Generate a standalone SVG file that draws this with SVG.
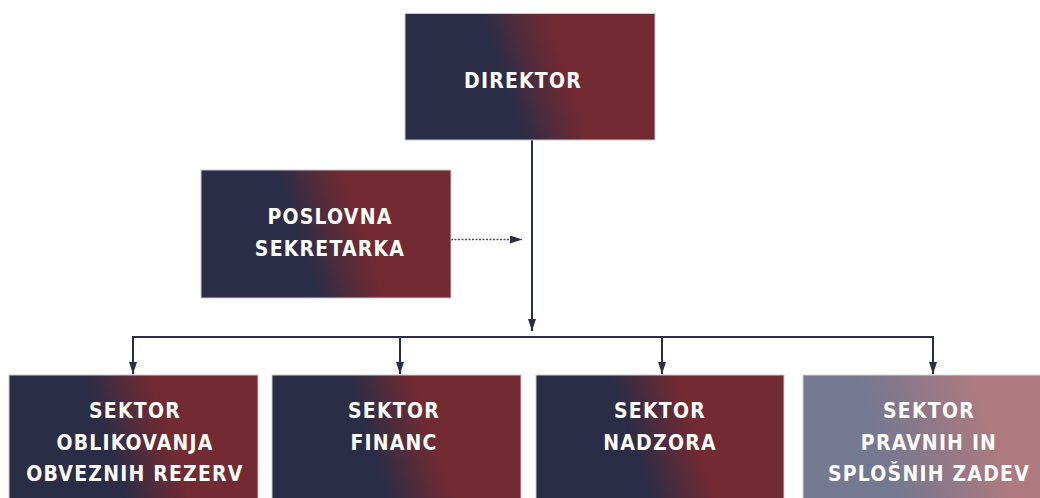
<svg xmlns="http://www.w3.org/2000/svg" width="1040" height="498" viewBox="0 0 1040 498">
  <defs>
    <linearGradient id="g" x1="0" y1="0.5" x2="1" y2="0.33">
      <stop offset="0" stop-color="#2b2d46"/>
      <stop offset="0.38" stop-color="#2b2d46"/>
      <stop offset="0.5" stop-color="#4f2c3c"/>
      <stop offset="0.63" stop-color="#722a33"/>
      <stop offset="1" stop-color="#722a33"/>
    </linearGradient>
    <linearGradient id="gl" x1="0" y1="0.5" x2="1" y2="0.33">
      <stop offset="0" stop-color="#747891"/>
      <stop offset="0.3" stop-color="#767891"/>
      <stop offset="0.55" stop-color="#957886"/>
      <stop offset="0.75" stop-color="#ae7a7f"/>
      <stop offset="1" stop-color="#b07b80"/>
    </linearGradient>
    <marker id="ah" viewBox="0 0 12 8" refX="12" refY="4" markerWidth="12" markerHeight="8" markerUnits="userSpaceOnUse" orient="auto">
      <path d="M0,0 L12,4 L0,8 Z" fill="#2b2d46"/>
    </marker>
  </defs>
  <style>
    .box { fill: url(#g); stroke: #c9c9cf; stroke-width: 1; }
    .boxl { fill: url(#gl); stroke: #d4d4d8; stroke-width: 1; }
    .t { font-family: "DejaVu Sans Condensed", "DejaVu Sans", sans-serif; font-stretch: condensed; font-weight: bold; font-size: 21px; letter-spacing: 1.2px; fill: #ffffff; text-anchor: middle; }
    .c { fill: none; stroke: #2b2d46; stroke-width: 2; }
    .cs { fill: none; stroke: #4a4b60; stroke-width: 1.5; stroke-dasharray: 2 1.5; }
  </style>

  <g id="connectors">
    <line class="c" x1="532" y1="140" x2="532" y2="331" marker-end="url(#ah)"/>
    <line class="cs" x1="451" y1="239.5" x2="522" y2="239.5" marker-end="url(#ah)"/>
    <line class="c" x1="132" y1="337" x2="934" y2="337"/>
    <line class="c" x1="133" y1="337" x2="133" y2="374" marker-end="url(#ah)"/>
    <line class="c" x1="400" y1="337" x2="400" y2="374" marker-end="url(#ah)"/>
    <line class="c" x1="662" y1="337" x2="662" y2="374" marker-end="url(#ah)"/>
    <line class="c" x1="933" y1="337" x2="933" y2="374" marker-end="url(#ah)"/>
  </g>

  <g id="direktor">
    <rect class="box" x="405" y="13.5" width="250" height="126.5"/>
    <text class="t" x="523" y="88">DIREKTOR</text>
  </g>

  <g id="poslovna-sekretarka">
    <rect class="box" x="201" y="170" width="250" height="128"/>
    <text class="t" x="330" y="223.5">POSLOVNA</text>
    <text class="t" x="330" y="256">SEKRETARKA</text>
  </g>

  <g id="sektor-oblikovanja">
    <rect class="box" x="9" y="375" width="249" height="130"/>
    <text class="t" x="135" y="417.5">SEKTOR</text>
    <text class="t" x="135" y="450">OBLIKOVANJA</text>
    <text class="t" x="135" y="481">OBVEZNIH REZERV</text>
  </g>

  <g id="sektor-financ">
    <rect class="box" x="272" y="375" width="249" height="130"/>
    <text class="t" x="394" y="417.5">SEKTOR</text>
    <text class="t" x="394" y="450">FINANC</text>
  </g>

  <g id="sektor-nadzora">
    <rect class="box" x="536" y="375" width="248" height="130"/>
    <text class="t" x="660" y="417.5">SEKTOR</text>
    <text class="t" x="660" y="450">NADZORA</text>
  </g>

  <g id="sektor-pravnih">
    <rect class="boxl" x="803" y="375" width="249" height="130"/>
    <text class="t" x="929" y="417.5">SEKTOR</text>
    <text class="t" x="929" y="450">PRAVNIH IN</text>
    <text class="t" x="929" y="481">SPLOŠNIH ZADEV</text>
  </g>
</svg>
